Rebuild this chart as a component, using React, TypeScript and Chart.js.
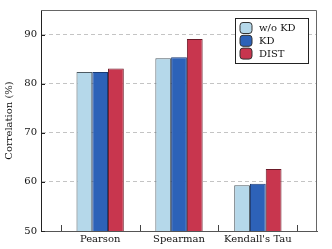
import React, { useEffect, useRef } from 'react';
import { Chart, registerables } from 'chart.js';

Chart.register(...registerables);

const categories = ['Pearson', 'Spearman', "Kendall's Tau"];
const seriesNames = ['w/o KD', 'KD', 'DIST'];
const woKD = [82.4, 85.2, 59.3];
const kd = [82.4, 85.4, 59.6];
const dist = [83.1, 89.1, 62.6];
const yTicks = [50, 60, 70, 80, 90];
const xDividers = [-0.5, 0.5, 1.5, 2.5];

const FONT = "'DejaVu Serif', serif";
const fills = ['#b5d8ea', '#2d62b8', '#c8364e'];
const edges = ['#4d5b63', '#1b3a73', '#6b1a28'];

const decorPlugin = {
  id: 'decor',
  afterDatasetsDraw(chart: any) {
    const ctx = chart.ctx as CanvasRenderingContext2D;
    const { left, right, top, bottom } = chart.chartArea;
    const xs = chart.scales.x;
    const ys = chart.scales.y;
    ctx.save();
    // top / right frame
    ctx.strokeStyle = '#666';
    ctx.lineWidth = 1;
    ctx.beginPath();
    ctx.moveTo(left, top + 0.5);
    ctx.lineTo(right - 0.5, top + 0.5);
    ctx.lineTo(right - 0.5, bottom);
    ctx.stroke();
    // inward y ticks
    ctx.strokeStyle = '#222';
    yTicks.forEach((v) => {
      const py = Math.round(ys.getPixelForValue(v)) + 0.5;
      ctx.beginPath();
      ctx.moveTo(left, py);
      ctx.lineTo(left + 4, py);
      ctx.stroke();
    });
    // inward x ticks
    ctx.strokeStyle = '#444';
    xDividers.forEach((v) => {
      const px = Math.round(xs.getPixelForValue(v)) + 0.5;
      ctx.beginPath();
      ctx.moveTo(px, bottom);
      ctx.lineTo(px, bottom - 6);
      ctx.stroke();
    });
    // legend
    const boxW = 73;
    const boxH = 45;
    const bx = Math.round(right - 9 - boxW) + 0.5;
    const by = Math.round(top + 8) + 0.5;
    ctx.fillStyle = '#ffffff';
    ctx.fillRect(bx, by, boxW, boxH);
    ctx.strokeStyle = '#222';
    ctx.strokeRect(bx, by, boxW, boxH);
    ctx.font = `10px ${FONT}`;
    ctx.textBaseline = 'middle';
    ctx.textAlign = 'left';
    chart.data.datasets.forEach((ds: any, i: number) => {
      const sx = bx + 4.5;
      const sy = by + 4 + i * 12.8;
      ctx.beginPath();
      (ctx as any).roundRect(sx, sy, 12, 11, 3);
      ctx.fillStyle = ds.backgroundColor;
      ctx.fill();
      ctx.strokeStyle = '#333';
      ctx.stroke();
      ctx.fillStyle = '#111';
      ctx.fillText(ds.label, bx + 23.5, sy + 6);
    });
    ctx.restore();
  },
};

export default function App() {
  const ref = useRef<HTMLCanvasElement | null>(null);
  useEffect(() => {
    if (!ref.current) return;
    const chart = new Chart(ref.current, {
      type: 'bar',
      data: {
        datasets: [woKD, kd, dist].map((vals, k) => ({
          label: seriesNames[k],
          data: vals.map((v, i) => ({ x: i, y: v })),
          backgroundColor: fills[k],
          borderColor: edges[k],
          borderWidth: 1,
          borderSkipped: false,
          categoryPercentage: 0.6,
          barPercentage: 1,
        })),
      },
      options: {
        animation: false,
        responsive: true,
        maintainAspectRatio: false,
        layout: { padding: { top: 9, right: 15, left: 0, bottom: 0 } },
        plugins: { legend: { display: false }, tooltip: { enabled: false } },
        scales: {
          x: {
            type: 'linear',
            offset: false,
            min: -0.75,
            max: 2.75,
            afterBuildTicks: (s: any) => {
              s.ticks = categories.map((_, i) => ({ value: i }));
            },
            afterFit: (s: any) => {
              s.height = 18;
            },
            ticks: {
              callback: (v: any) => categories[v] ?? '',
              font: { family: FONT, size: 10 },
              color: '#111',
              padding: 2,
              maxRotation: 0,
              autoSkip: false,
            },
            grid: { display: false, drawTicks: false, offset: false },
            border: { display: true, color: '#555', width: 1 },
          },
          y: {
            type: 'linear',
            min: 50,
            max: 95,
            afterBuildTicks: (s: any) => {
              s.ticks = yTicks.map((v) => ({ value: v }));
            },
            afterFit: (s: any) => {
              s.width = 41;
            },
            ticks: {
              font: { family: FONT, size: 10 },
              color: '#111',
              padding: 4,
            },
            grid: {
              drawTicks: false,
              lineWidth: 1,
              color: (c: any) => (c.tick && c.tick.value === 50 ? 'rgba(0,0,0,0)' : '#c4c4c4'),
            },
            border: { display: true, color: '#222', width: 1, dash: [4, 3] },
            title: {
              display: true,
              text: 'Correlation (%)',
              font: { family: FONT, size: 10 },
              color: '#111',
              padding: { top: 3, bottom: 0 },
            },
          },
        },
      },
      plugins: [decorPlugin],
    } as any);
    return () => chart.destroy();
  }, []);
  return (
    <div style={{ position: 'fixed', left: 0, top: 0, width: 332, height: 249, background: '#fff' }}>
      <canvas ref={ref} />
    </div>
  );
}
